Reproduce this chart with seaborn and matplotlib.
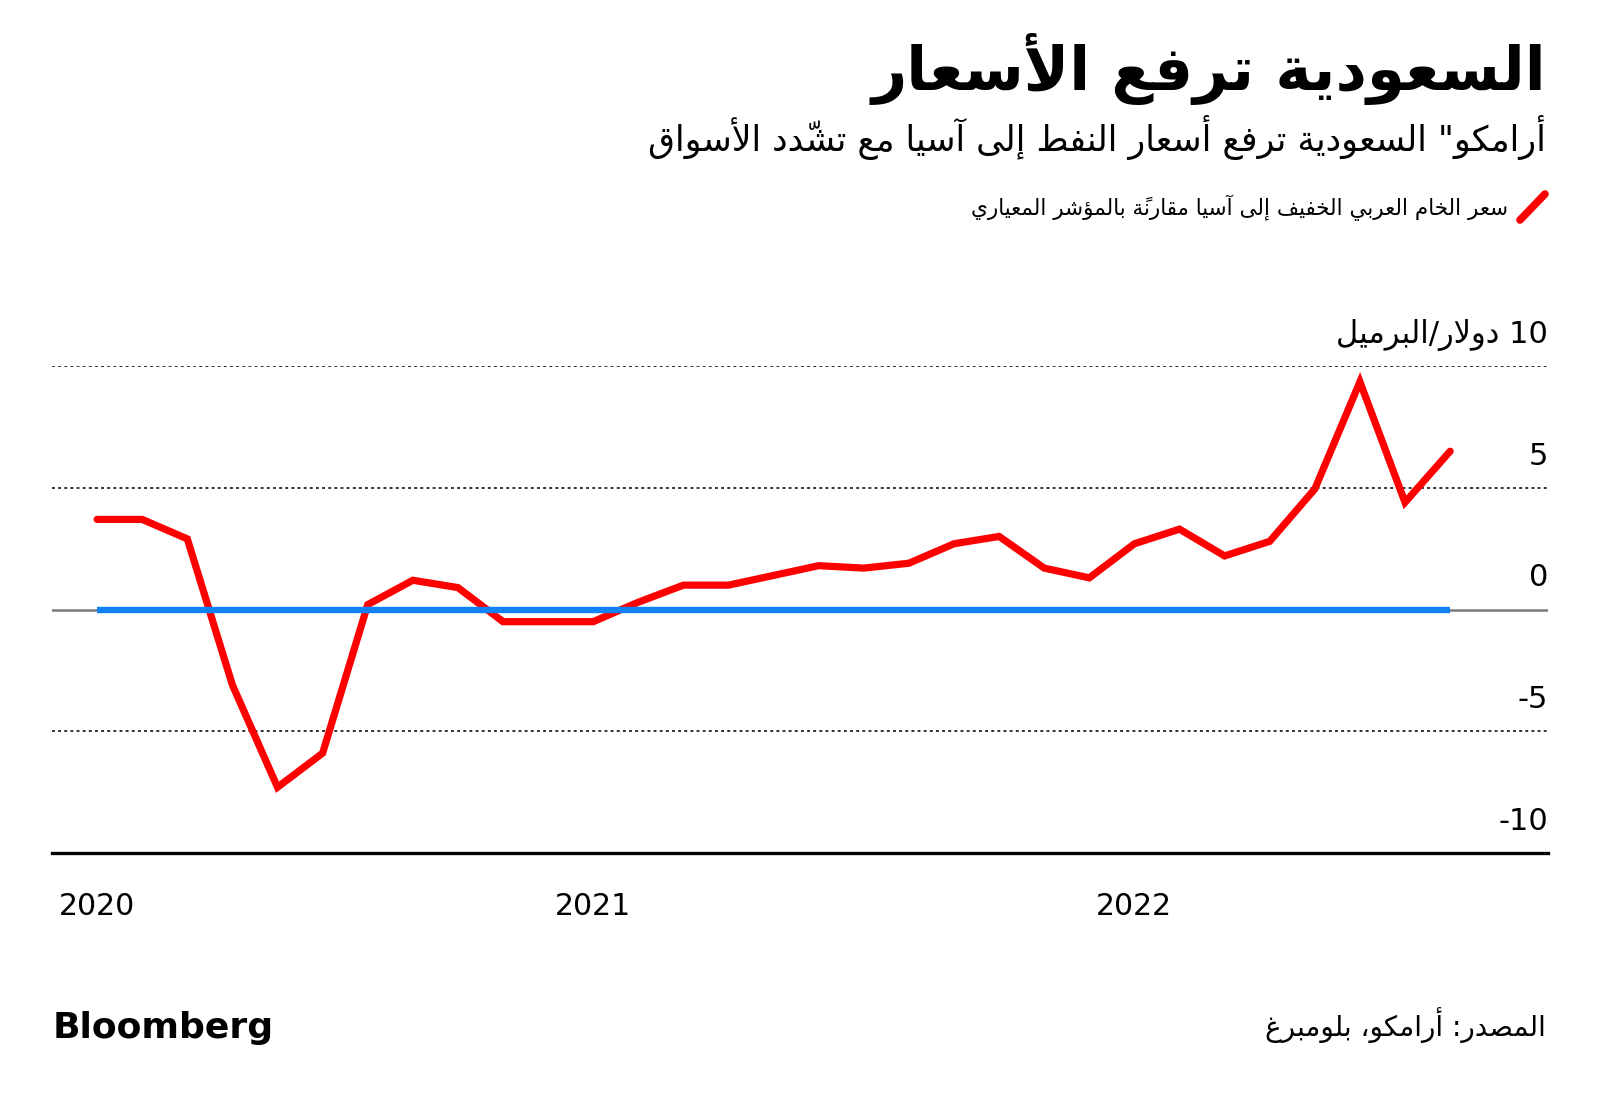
import matplotlib
matplotlib.use('Agg')
import matplotlib.pyplot as plt
import matplotlib.transforms as mtransforms
from matplotlib.lines import Line2D
import seaborn as sns
import pandas as pd

# Arab Light OSP to Asia vs. benchmark ($/bbl), monthly Jan 2020 - Jul 2022
osp_2020 = [3.7, 3.7, 2.9, -3.1, -7.3, -5.9, 0.2, 1.2, 0.9, -0.5, -0.5, -0.5]
osp_2021 = [0.3, 1.0, 1.0, 1.4, 1.8, 1.7, 1.9, 2.7, 3.0, 1.7, 1.3, 2.7]
osp_2022 = [3.3, 2.2, 2.8, 4.95, 9.35, 4.4, 6.5]
osp = osp_2020 + osp_2021 + osp_2022
benchmark = [0.0] * len(osp)

year_ticks = [0, 11, 23]          # where the source chart puts its year marks
year_labels = ['2020', '2021', '2022']
ytick_vals = [10, 5, 0, -5, -10]
ytick_labels = ['10 دولار/البرميل', '5', '0', '-5', '-10']
grid_vals = [10, 5, -5]

title = 'السعودية ترفع الأسعار'
subtitle = 'أرامكو" السعودية ترفع أسعار النفط إلى آسيا مع تشدّد الأسواق'
legend_label = 'سعر الخام العربي الخفيف إلى آسيا مقارنةً بالمؤشر المعياري'
source = 'المصدر: أرامكو، بلومبرغ'

df = pd.DataFrame({'month': range(len(osp)), 'osp': osp, 'bench': benchmark})


# --- tiny Arabic shaper (matplotlib has no complex text layout) ---
AR_FORMS = {
    'ء': (0xFE80, 1), 'آ': (0xFE81, 2), 'أ': (0xFE83, 2), 'ؤ': (0xFE85, 2),
    'إ': (0xFE87, 2), 'ئ': (0xFE89, 4), 'ا': (0xFE8D, 2), 'ب': (0xFE8F, 4),
    'ة': (0xFE93, 2), 'ت': (0xFE95, 4), 'ث': (0xFE99, 4), 'ج': (0xFE9D, 4),
    'ح': (0xFEA1, 4), 'خ': (0xFEA5, 4), 'د': (0xFEA9, 2), 'ذ': (0xFEAB, 2),
    'ر': (0xFEAD, 2), 'ز': (0xFEAF, 2), 'س': (0xFEB1, 4), 'ش': (0xFEB5, 4),
    'ص': (0xFEB9, 4), 'ض': (0xFEBD, 4), 'ط': (0xFEC1, 4), 'ظ': (0xFEC5, 4),
    'ع': (0xFEC9, 4), 'غ': (0xFECD, 4), 'ف': (0xFED1, 4), 'ق': (0xFED5, 4),
    'ك': (0xFED9, 4), 'ل': (0xFEDD, 4), 'م': (0xFEE1, 4), 'ن': (0xFEE5, 4),
    'ه': (0xFEE9, 4), 'و': (0xFEED, 2), 'ى': (0xFEEF, 2), 'ي': (0xFEF1, 4),
}
LAM_ALEF = {'آ': 0xFEF5, 'أ': 0xFEF7, 'إ': 0xFEF9, 'ا': 0xFEFB}
MARKS = '\u064b\u064c\u064d\u064e\u064f\u0650\u0651\u0652'


def shape(text):
    if not any(ch in AR_FORMS for ch in text):
        return text
    clusters = []
    for ch in text:
        if ch in MARKS and clusters:
            clusters[-1][1] += ch
        else:
            clusters.append([ch, ''])
    out = []
    i = 0
    while i < len(clusters):
        ch, marks = clusters[i]
        prev = clusters[i - 1][0] if i > 0 else ''
        joins_prev = prev in AR_FORMS and AR_FORMS[prev][1] == 4
        if ch == 'ل' and i + 1 < len(clusters) and clusters[i + 1][0] in LAM_ALEF:
            out.append((chr(LAM_ALEF[clusters[i + 1][0]] + joins_prev),
                        marks + clusters[i + 1][1], False))
            i += 2
            continue
        if ch in AR_FORMS:
            start, n = AR_FORMS[ch]
            nxt = clusters[i + 1][0] if i + 1 < len(clusters) else ''
            joins_next = n == 4 and nxt in AR_FORMS and AR_FORMS[nxt][1] > 1
            form = [[0, 2], [1, 3]][joins_prev][joins_next]
            if n == 2:
                form %= 2
            elif n == 1:
                form = 0
            out.append((chr(start + form), marks, False))
        else:
            out.append((ch, marks, ch.isascii() and ch.isalnum()))
        i += 1
    runs = []
    for g, m, ltr in out:
        if runs and runs[-1][0] == ltr:
            runs[-1][1].append(g + m)
        else:
            runs.append([ltr, [g + m]])
    return ''.join(''.join(items if ltr else items[::-1]) for ltr, items in runs[::-1])


sns.set_style('white')
plt.rcParams['font.family'] = ['DejaVu Sans']

W, H = 1600, 1108
fig = plt.figure(figsize=(W / 100, H / 100), dpi=100)


def fx(px):
    return px / W


def fy(py):
    return 1 - py / H


ax = fig.add_axes([fx(52), fy(853), fx(1548) - fx(52), fy(366) - fy(853)])
ax.set_xlim(-1.0, 32.17)
ax.set_ylim(-10, 10)

for v in grid_vals:
    ax.axhline(v, color='#222222', lw=1.3, ls=(0, (1.6, 1.8)), zorder=1)
ax.axhline(0, color='#7a7a7a', lw=1.8, zorder=1)

sns.lineplot(data=df, x='month', y='osp', ax=ax, color='#ff0000', lw=5.2,
             zorder=3, solid_capstyle='round', solid_joinstyle='miter')
sns.lineplot(data=df, x='month', y='bench', ax=ax, color='#0f82f5', lw=4.6,
             zorder=4, solid_capstyle='butt')

for side in ['top', 'left', 'right']:
    ax.spines[side].set_visible(False)
ax.spines['bottom'].set_linewidth(2.4)
ax.spines['bottom'].set_color('black')
ax.set_xticks(year_ticks, year_labels)
ax.set_yticks([])
ax.tick_params(axis='x', length=11, width=1.1, pad=17, labelsize=21.5,
               colors='black', direction='out')
ax.set_xlabel('')
ax.set_ylabel('')

lab_tr = mtransforms.offset_copy(ax.get_yaxis_transform(), fig=fig, y=23, units='dots')
for v, lab in zip(ytick_vals, ytick_labels):
    ax.text(1.0, v, shape(lab), transform=lab_tr, ha='right', va='baseline',
            fontsize=22, color='black', clip_on=False)

# header
fig.text(fx(1546), fy(90), shape(title), ha='right', va='baseline',
         fontsize=44, fontweight='bold', color='black')
fig.text(fx(1546), fy(151), shape(subtitle), ha='right', va='baseline',
         fontsize=25, color='black')

# legend
fig.add_artist(Line2D([fx(1520), fx(1545)], [fy(220), fy(194)],
                      transform=fig.transFigure, color='#ff0000', lw=5.5))
fig.text(fx(1508), fy(215), shape(legend_label), ha='right', va='baseline',
         fontsize=15.5, color='black')

# footer
fig.text(fx(53), fy(1038), 'Bloomberg', ha='left', va='baseline',
         fontsize=26, fontweight='bold', color='black')
fig.text(fx(1546), fy(1036), shape(source), ha='right', va='baseline',
         fontsize=20, color='black')

fig.savefig('out.png', dpi=100)
